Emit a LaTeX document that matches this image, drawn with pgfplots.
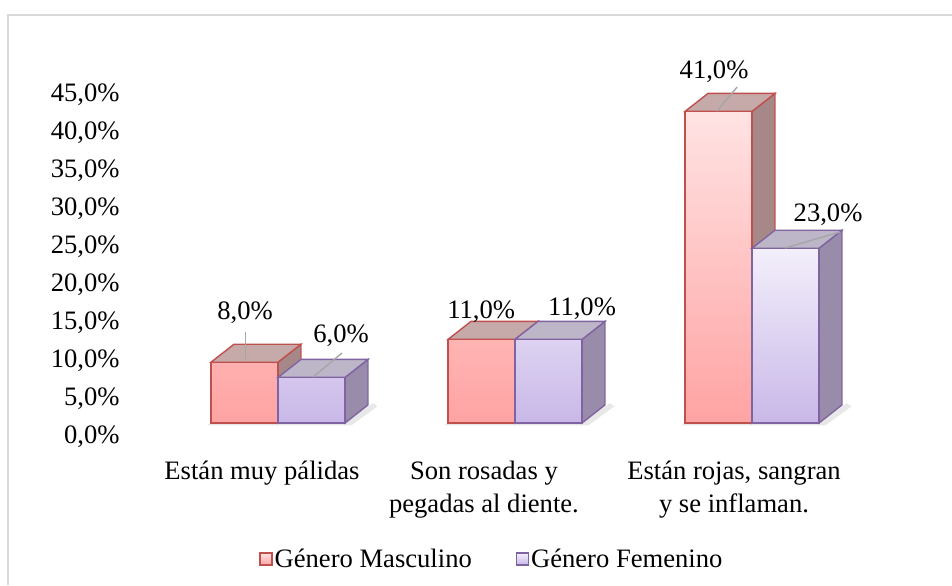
\documentclass[border=0pt]{standalone}
\usepackage{fontspec}
\setmainfont{Liberation Serif}
\usepackage{pgfplots}
\pgfplotsset{compat=1.18}
\definecolor{mred}{HTML}{C0504D}
\definecolor{mtop}{HTML}{FFE3E3}
\definecolor{mbot}{HTML}{FFA3A3}
\definecolor{mtopface}{HTML}{C6A9A9}
\definecolor{msideface}{HTML}{A68888}
\definecolor{fpur}{HTML}{8064A2}
\definecolor{ftop}{HTML}{F3EFFB}
\definecolor{fbot}{HTML}{C9B8E8}
\definecolor{ftopface}{HTML}{BDB5C8}
\definecolor{fsideface}{HTML}{998CAA}
\definecolor{leader}{HTML}{A6A6A6}
\definecolor{frame}{HTML}{D9D9D9}
\definecolor{shadow}{HTML}{D8D8D8}
\newcommand{\lfont}{\fontsize{13.3}{16.5}\selectfont}
\begin{document}
\begin{tikzpicture}
\useasboundingbox (0,0) rectangle (476pt,-292.5pt);
\draw[color=frame, line width=1pt] (3.75pt,-292.5pt) -- (3.75pt,-7.35pt) -- (476pt,-7.35pt);
\begin{axis}[
  at={(67.9pt,-211.5pt)}, anchor=south west,
  scale only axis, width=379.2pt, height=182.4pt,
  xmin=-0.6, xmax=2.6, ymin=0, ymax=48,
  axis lines*=left, axis line style={draw=none}, tick style={draw=none},
  ytick={0,5,...,45},
  yticklabel={\pgfmathprintnumber[fixed,fixed zerofill,precision=1,use comma,assume math mode=true]{\tick}\%},
  yticklabel style={anchor=east, inner sep=0pt, xshift=-7.9pt, yshift=-7pt},
  xtick={-0.0675,0.869,1.924},
  xticklabels={{\rule{0pt}{1em}Están muy pálidas},{\rule{0pt}{1em}Son rosadas y\\pegadas al diente.},{\rule{0pt}{1em}Están rojas, sangran\\y se inflaman.}},
  xticklabel style={anchor=north, align=center, inner sep=0pt, yshift=-14.5pt},
  tick label style={font=\lfont},
  clip=false,
  legend columns=2,
  legend style={at={(0.1625,-0.3755)}, anchor=west, draw=none, fill=none, inner sep=0pt,
    font=\lfont, nodes={inner sep=1pt},
    /tikz/every even column/.append style={column sep=21pt}},
  legend cell align=left,
]
% --- soft floor shadows
\addplot[forget plot, draw=none, fill=shadow, opacity=0.6] coordinates {(-0.30,-0.3)(0.31,-0.3)(0.42,2.2)(0.40,2.6)(0.29,0.1)(-0.28,0.1)} -- cycle;
\addplot[forget plot, draw=none, fill=shadow, opacity=0.6] coordinates {(0.70,-0.3)(1.31,-0.3)(1.42,2.2)(1.40,2.6)(1.29,0.1)(0.72,0.1)} -- cycle;
\addplot[forget plot, draw=none, fill=shadow, opacity=0.6] coordinates {(1.70,-0.3)(2.31,-0.3)(2.42,2.2)(2.40,2.6)(2.29,0.1)(1.72,0.1)} -- cycle;
% --- Masculino 3D faces
\addplot[forget plot, draw=mred, fill=msideface, line width=0.7pt] coordinates {(0,8)(0.097,10.37)(0.097,2.37)(0,0)} -- cycle;
\addplot[forget plot, draw=mred, fill=mtopface, line width=0.7pt] coordinates {(-0.2827,8)(0,8)(0.097,10.37)(-0.1857,10.37)} -- cycle;
\addplot[forget plot, draw=mred, fill=msideface, line width=0.7pt] coordinates {(1,11)(1.097,13.37)(1.097,2.37)(1,0)} -- cycle;
\addplot[forget plot, draw=mred, fill=mtopface, line width=0.7pt] coordinates {(0.7173,11)(1,11)(1.097,13.37)(0.8143,13.37)} -- cycle;
\addplot[forget plot, draw=mred, fill=msideface, line width=0.7pt] coordinates {(2,41)(2.097,43.37)(2.097,2.37)(2,0)} -- cycle;
\addplot[forget plot, draw=mred, fill=mtopface, line width=0.7pt] coordinates {(1.7173,41)(2,41)(2.097,43.37)(1.8143,43.37)} -- cycle;
% --- Masculino front
\addplot[ybar, bar width=33.5pt, bar shift=-16.75pt, draw=mred, line width=0.7pt, top color=mtop, bottom color=mbot,
  legend image code/.code={\draw[draw=mred, top color=mtop, bottom color=mbot, line width=0.6pt] (0pt,-2.5pt) rectangle (6pt,3.5pt);}]
  coordinates {(0,8) (1,11) (2,41)};
\addlegendentry{Género Masculino}
% --- Femenino 3D faces
\addplot[forget plot, draw=fpur, fill=fsideface, line width=0.7pt] coordinates {(0.2827,6)(0.3797,8.37)(0.3797,2.37)(0.2827,0)} -- cycle;
\addplot[forget plot, draw=fpur, fill=ftopface, line width=0.7pt] coordinates {(0,6)(0.2827,6)(0.3797,8.37)(0.097,8.37)} -- cycle;
\addplot[forget plot, draw=fpur, fill=fsideface, line width=0.7pt] coordinates {(1.2827,11)(1.3797,13.37)(1.3797,2.37)(1.2827,0)} -- cycle;
\addplot[forget plot, draw=fpur, fill=ftopface, line width=0.7pt] coordinates {(1,11)(1.2827,11)(1.3797,13.37)(1.097,13.37)} -- cycle;
\addplot[forget plot, draw=fpur, fill=fsideface, line width=0.7pt] coordinates {(2.2827,23)(2.3797,25.37)(2.3797,2.37)(2.2827,0)} -- cycle;
\addplot[forget plot, draw=fpur, fill=ftopface, line width=0.7pt] coordinates {(2,23)(2.2827,23)(2.3797,25.37)(2.097,25.37)} -- cycle;
% --- Femenino front
\addplot[ybar, bar width=33.5pt, bar shift=16.75pt, draw=fpur, line width=0.7pt, top color=ftop, bottom color=fbot,
  legend image code/.code={\draw[draw=fpur, top color=ftop, bottom color=fbot, line width=0.6pt] (0pt,-2.5pt) rectangle (6pt,3.5pt);}]
  coordinates {(0,6) (1,11) (2,23)};
\addlegendentry{Género Femenino}
% --- leader lines
\addplot[forget plot, leader, line width=0.7pt] coordinates {(-0.137,11.97)(-0.137,8.3)};
\addplot[forget plot, leader, line width=0.7pt] coordinates {(0.270,9.21)(0.148,6.05)};
\addplot[forget plot, leader, line width=0.7pt] coordinates {(1.937,44.2)(1.852,41.05)};
\addplot[forget plot, leader, line width=0.7pt] coordinates {(2.371,25.13)(2.139,23.03)};
% --- data labels
\addplot[forget plot, draw=none, mark=none, nodes near coords, point meta=explicit symbolic,
  nodes near coords style={anchor=center, font=\lfont, inner sep=0pt}]
  coordinates {(-0.139,14.47) [8,0\%] (0.266,11.45) [6,0\%] (0.857,14.61) [11,0\%] (1.283,15.0) [11,0\%] (1.840,46.18) [41,0\%] (2.321,27.37) [23,0\%]};
\end{axis}
\end{tikzpicture}
\end{document}
